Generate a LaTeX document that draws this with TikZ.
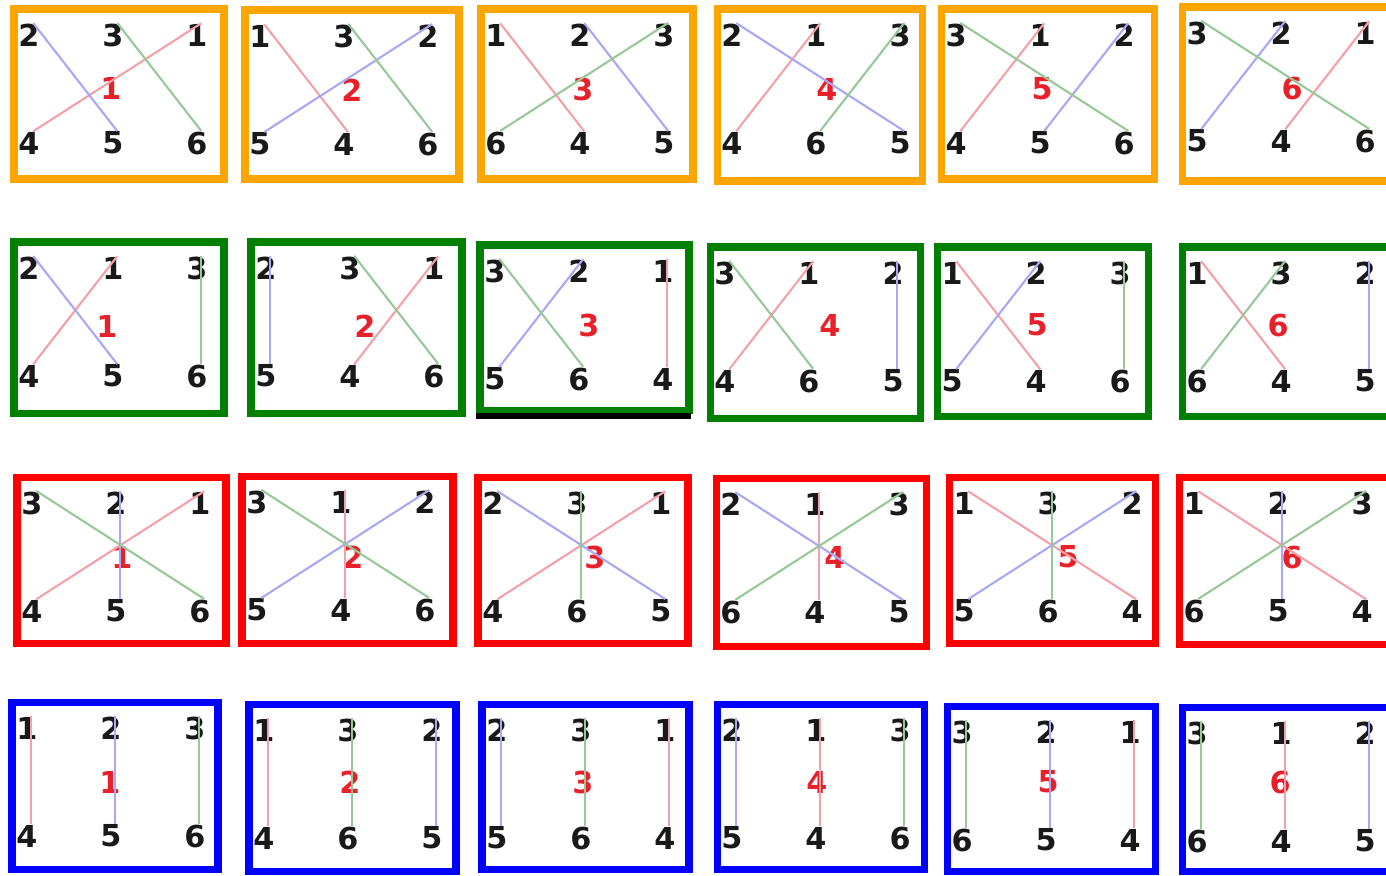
\documentclass[tikz,border=0pt]{standalone}
\usepackage{fontspec}
\setmainfont{DejaVu Sans}
\usepackage{xcolor}
\definecolor{orng}{HTML}{FFA500}
\definecolor{grn}{HTML}{008000}
\definecolor{rd}{HTML}{FF0000}
\definecolor{blu}{HTML}{0000FF}
\definecolor{lbl}{HTML}{E8202A}
\definecolor{wred}{HTML}{F4A0A8}
\definecolor{wblu}{HTML}{A8A8F4}
\definecolor{wgrn}{HTML}{98C898}

\begin{document}
\begin{tikzpicture}[x=0.01cm,y=-0.01cm,
  digit/.style={inner sep=0pt,text=black!90,font=\fontsize{8.6}{10}\selectfont\bfseries},
  lab/.style={inner sep=0pt,text=lbl,font=\fontsize{8.6}{10}\selectfont\bfseries},
  frame/.style={draw=#1,line width=2pt},
  wire/.style={draw=#1,line width=0.6pt}]
  \useasboundingbox (0,0) rectangle (1386,875);
  \clip (0,0) rectangle (1386,875);
  % row / label / frame colour / box corners / label position / top digits / bottom digits
  \foreach \r/\n/\frm/\xa/\ya/\xb/\yb/\lx/\ly/\ta/\tb/\tc/\ba/\bb/\bc in {
    o/1/orng/14/9/224/179/111/88/2/3/1/4/5/6,
    o/2/orng/245/10/459/179/352/90/1/3/2/5/4/6,
    o/3/orng/481/9/693/179/583/89/1/2/3/6/4/5,
    o/4/orng/717/9/922/181/827/89/2/1/3/4/6/5,
    o/5/orng/941/9/1154/179/1042/89/3/1/2/4/5/6,
    o/6/orng/1182/7/1400/181/1292/88/3/2/1/5/4/6,
    g/1/grn/14/242/224/413/107/326/2/1/3/4/5/6,
    g/2/grn/251/242/462/413/365/326/2/3/1/5/4/6,
    g/3/grn/480/245/689/410/589/325/3/2/1/5/6/4,
    g/4/grn/710/247/920/418/830/325/3/1/2/4/6/5,
    g/5/grn/937/247/1148/416/1037/325/1/2/3/5/4/6,
    g/6/grn/1182/247/1400/416/1278/325/1/3/2/6/4/5,
    r/1/rd/17/477/226/643/122/557/3/2/1/4/5/6,
    r/2/rd/242/476/453/643/353/557/3/1/2/5/4/6,
    r/3/rd/478/477/688/643/595/557/2/3/1/4/6/5,
    r/4/rd/716/478/926/646/835/557/2/1/3/6/4/5,
    r/5/rd/949/477/1155/643/1068/557/1/3/2/5/6/4,
    r/6/rd/1179/477/1400/644/1292/557/1/2/3/6/5/4,
    b/1/blu/12/702/218/869/110/782/1/2/3/4/5/6,
    b/2/blu/249/704/456/871/350/782/1/3/2/4/6/5,
    b/3/blu/482/704/689/869/583/782/2/3/1/5/6/4,
    b/4/blu/717/704/924/869/817/782/2/1/3/5/4/6,
    b/5/blu/947/706/1155/871/1048/782/3/2/1/6/5/4,
    b/6/blu/1182/707/1400/871/1280/782/3/1/2/6/4/5}{
    \draw[frame=\frm] (\xa,\ya) rectangle (\xb,\yb);
    \node[digit] (\r\n-\ta) at (\xa+15,\ya+26) {\ta};
    \node[digit] (\r\n-\tb) at (\xa+99,\ya+26) {\tb};
    \node[digit] (\r\n-\tc) at (\xa+183,\ya+26) {\tc};
    \node[digit] (\r\n-\ba) at (\xa+15,\ya+134) {\ba};
    \node[digit] (\r\n-\bb) at (\xa+99,\ya+134) {\bb};
    \node[digit] (\r\n-\bc) at (\xa+183,\ya+134) {\bc};
    \node[lab] (\r\n-lab) at (\lx,\ly) {\n};
    \draw[wire=wred] ([xshift=1.2pt]\r\n-1.north) -- ([xshift=1.2pt]\r\n-4.north);
    \draw[wire=wblu] ([xshift=1.2pt]\r\n-2.north) -- ([xshift=1.2pt]\r\n-5.north);
    \draw[wire=wgrn] ([xshift=1.2pt]\r\n-3.north) -- ([xshift=1.2pt]\r\n-6.north);
  }
  \draw[line width=1.6pt] (476,416) -- (691,416);
\end{tikzpicture}
\end{document}
